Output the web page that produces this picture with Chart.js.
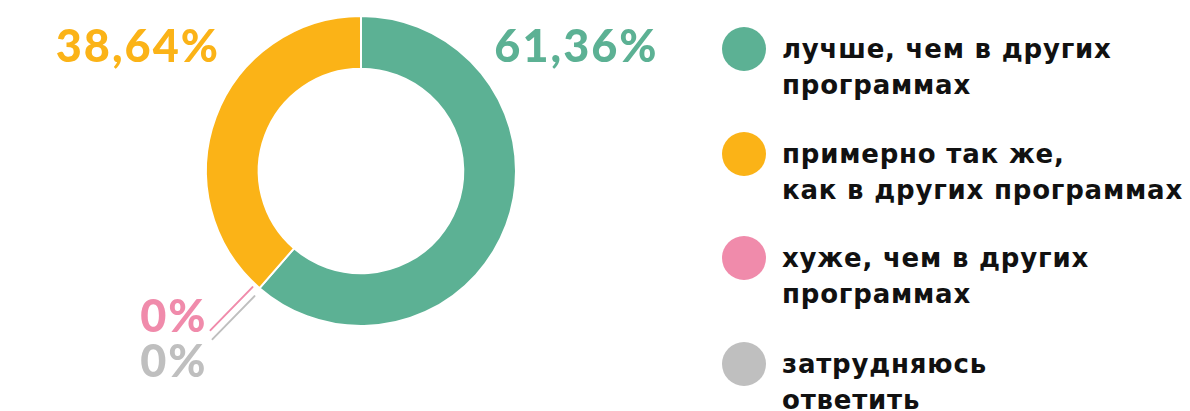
<!DOCTYPE html>
<html lang="ru">
<head>
<meta charset="utf-8">
<script src="https://cdn.jsdelivr.net/npm/chart.js@4"></script>
<style>
  html, body { margin: 0; padding: 0; background: #ffffff; }
  #wrap { position: relative; width: 1190px; height: 411px; overflow: hidden; }
  #chartBox { position: absolute; left: 0; top: 0; width: 722px; height: 411px; }
  #legend { position: absolute; left: 722px; top: 0; }
  .item { position: absolute; left: 0; display: flex; align-items: flex-start; }
  .dot { width: 44px; height: 44px; border-radius: 50%; margin-top: -4px; flex: none; }
  .txt { margin-left: 16px; font-family: "DejaVu Sans", sans-serif; font-weight: bold; font-size: 26px;
         letter-spacing: 0.8px; line-height: 36px; color: #111111; white-space: nowrap; }
</style>
</head>
<body>
<div id="wrap">
  <div id="chartBox"><canvas id="pie" width="722" height="411"></canvas></div>
  <div id="legend"></div>
</div>
<script>
// legend order
const categories = [
  ["лучше, чем в других", "программах"],
  ["примерно так же,", "как в других программах"],
  ["хуже, чем в других", "программах"],
  ["затрудняюсь", "ответить"]
];
const shares = [61.36, 38.64, 0, 0];
const shareLabels = ["61,36%", "38,64%", "0%", "0%"];
const colors = ["#5cb194", "#fbb317", "#f08bab", "#bfbfbf"];
// order of slices around the ring (clockwise from top)
const ringOrder = [0, 2, 3, 1];

const legend = document.getElementById("legend");
const legendTops = [31, 136, 240, 346];
categories.forEach(function(lines, i) {
  const item = document.createElement("div");
  item.className = "item";
  item.style.top = legendTops[i] + "px";
  const dot = document.createElement("div");
  dot.className = "dot";
  dot.style.background = colors[i];
  const txt = document.createElement("div");
  txt.className = "txt";
  txt.innerHTML = lines.join("<br>");
  item.appendChild(dot);
  item.appendChild(txt);
  legend.appendChild(item);
});

const labelFont = "900 45px Lato, sans-serif";

const valueLabels = {
  id: "valueLabels",
  afterDatasetsDraw(chart) {
    const ctx = chart.ctx;
    const arcs = chart.getDatasetMeta(0).data;
    const first = arcs[0];
    const cx = first.x, cy = first.y, r = first.outerRadius;
    ctx.save();
    ctx.font = labelFont;
    ctx.letterSpacing = "2px";
    ctx.textBaseline = "alphabetic";

    // big shares above the ring
    ctx.fillStyle = colors[0];
    ctx.textAlign = "left";
    ctx.fillText(shareLabels[0], cx + 0.86 * r, cy - 0.705 * r);
    ctx.fillStyle = colors[1];
    ctx.textAlign = "right";
    ctx.fillText(shareLabels[1], cx - 0.91 * r, cy - 0.705 * r);

    // zero slices: leader lines from their (collapsed) position on the ring
    const zero = arcs[1];
    const a = zero.startAngle;
    const px = cx + Math.cos(a) * r, py = cy + Math.sin(a) * r;
    ctx.lineWidth = 2;
    ctx.lineCap = "round";
    const offs = [[-7, -1], [-5, 8]];
    const textOffs = [[-45, 45], [-47, 81]];
    [2, 3].forEach(function(ci, k) {
      const sx = px + offs[k][0], sy = py + offs[k][1];
      ctx.strokeStyle = colors[ci];
      ctx.beginPath();
      ctx.moveTo(sx, sy);
      ctx.lineTo(sx - 42, sy + 43);
      ctx.stroke();
      ctx.fillStyle = colors[ci];
      ctx.textAlign = "right";
      ctx.fillText(shareLabels[ci], sx + textOffs[k][0], sy + textOffs[k][1]);
    });
    ctx.restore();
  }
};

new Chart(document.getElementById("pie"), {
  type: "doughnut",
  data: {
    labels: ringOrder.map(function(i) { return categories[i].join(" "); }),
    datasets: [{
      data: ringOrder.map(function(i) { return shares[i]; }),
      backgroundColor: ringOrder.map(function(i) { return colors[i]; }),
      borderColor: "#ffffff",
      borderWidth: 2
    }]
  },
  options: {
    responsive: false,
    animation: false,
    cutout: "66%",
    layout: { padding: { left: 205, right: 205, top: 15, bottom: 84 } },
    plugins: {
      legend: { display: false },
      tooltip: { enabled: false }
    }
  },
  plugins: [valueLabels]
});
</script>
</body>
</html>
